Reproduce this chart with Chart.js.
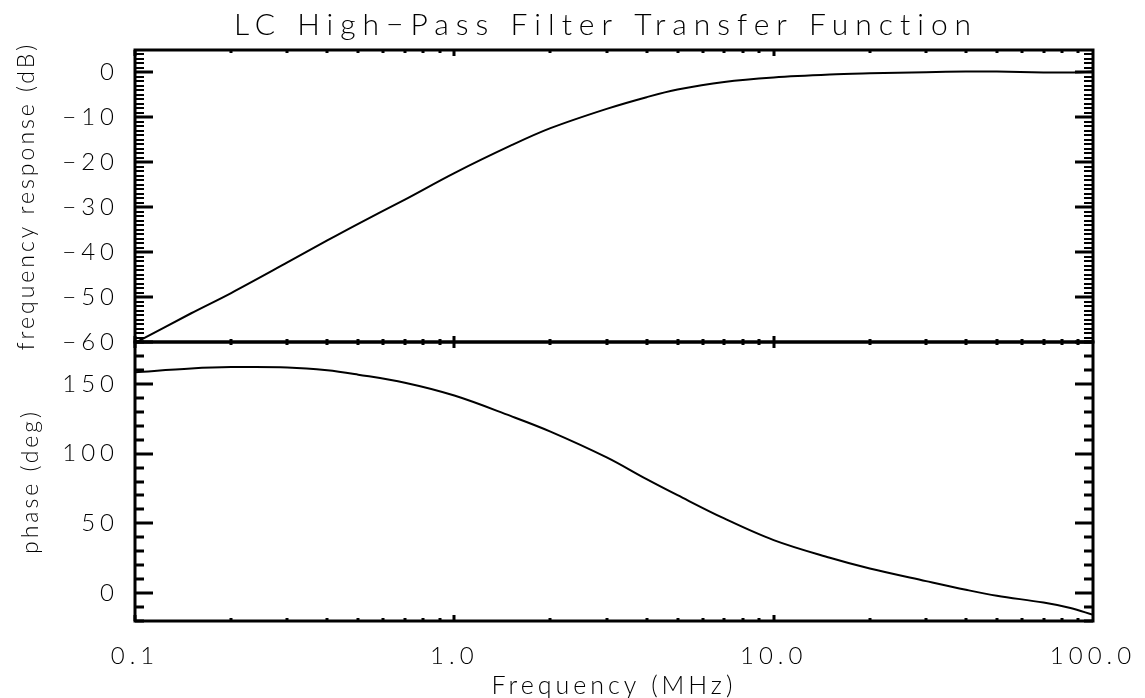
<!DOCTYPE html>
<html>
<head>
<meta charset="utf-8">
<script src="https://cdn.jsdelivr.net/npm/chart.js@4.4.0/dist/chart.umd.min.js"></script>
<style>
  html,body{margin:0;padding:0;background:#fff}
  #c{display:block}
</style>
</head>
<body>
<canvas id="c" width="1145" height="698"></canvas>
<script>
// ------------------------------------------------------------
// data
// ------------------------------------------------------------
const TITLE = "LC High\u2212Pass Filter Transfer Function";
const FREQ_MHZ  = [0.1, 0.15, 0.2, 0.3, 0.4, 0.5, 0.7, 1, 1.5, 2, 3, 4, 5, 7, 10, 15, 20, 30, 40, 50, 70, 85, 100];
const GAIN_DB   = [-60.2, -53.6, -49.1, -42.3, -37.4, -33.7, -28.3, -22.4, -16.3, -12.4, -8.1, -5.5, -3.8, -2.1, -1.1, -0.45, -0.2, 0.05, 0.2, 0.2, 0.0, 0.0, 0.2];
const PHASE_DEG = [158.3, 161.0, 162.0, 161.8, 159.8, 156.6, 150.8, 141.6, 127.0, 115.8, 97.3, 81.7, 70.2, 53.5, 38.0, 25.3, 17.6, 8.6, 2.4, -1.9, -6.8, -10.7, -15.5];

const X_TICKS     = [0.1, 1, 10, 100];
const DB_TICKS    = [0, -10, -20, -30, -40, -50, -60];
const PHASE_TICKS = [0, 50, 100, 150];

const FONT = "Lato, Roboto, 'DejaVu Sans', sans-serif";

// letter spacing per scale (canvas has it, Chart.js options don't)
const SPACING = {
  x:   {labels: "5px", title: "4px"},
  yDb: {labels: "5px", title: "3px"},
  yPh: {labels: "5px", title: "3px"}
};

function withSpacing(scale, fn, sp){
  const orig = scale[fn];
  scale[fn] = function(){
    const c = this.ctx, prev = c.letterSpacing;
    c.letterSpacing = sp;
    orig.apply(this, arguments);
    c.letterSpacing = prev;
  };
}

// ------------------------------------------------------------
// IDL-style frame: thick box + inward ticks on every side
// ------------------------------------------------------------
const frame = {
  id: "frame",
  beforeDraw(chart){
    for(const id in SPACING){
      const s = chart.scales[id];
      if(s && !s._spaced){
        withSpacing(s, "drawLabels", SPACING[id].labels);
        withSpacing(s, "drawTitle", SPACING[id].title);
        s._spaced = true;
      }
    }
  },
  afterDraw(chart){
    const ctx = chart.ctx, x = chart.scales.x;
    const panels = [
      {s: chart.scales.yDb, minor: 1,  major: 10, mw: 2},
      {s: chart.scales.yPh, minor: 10, major: 50, mw: 3}
    ];
    ctx.save();
    ctx.strokeStyle = "#000";
    for(const p of panels){
      const y = p.s;
      // y ticks, left and right
      for(let v = Math.ceil(y.min/p.minor)*p.minor; v <= y.max; v += p.minor){
        const py = Math.round(y.getPixelForValue(v));
        const big = Math.abs(v % p.major) < 1e-9;
        const len = big ? 18 : 9;
        ctx.lineWidth = big ? 3 : p.mw;
        ctx.beginPath();
        ctx.moveTo(x.left, py); ctx.lineTo(x.left+len, py);
        ctx.moveTo(x.right, py); ctx.lineTo(x.right-len, py);
        ctx.stroke();
      }
      // x ticks, top and bottom
      for(const d of [0.1, 1, 10]){
        for(let k=1;k<=9;k++){
          const px = Math.round(x.getPixelForValue(d*k));
          const len = k===1 ? 6 : 3;
          ctx.lineWidth = 3;
          ctx.beginPath();
          ctx.moveTo(px, y.top); ctx.lineTo(px, y.top+len);
          ctx.moveTo(px, y.bottom); ctx.lineTo(px, y.bottom-len);
          ctx.stroke();
        }
      }
      ctx.lineWidth = 3;
      ctx.strokeRect(x.left, y.top, x.right-x.left, y.bottom-y.top);
    }
    // title
    ctx.fillStyle = "#000";
    ctx.font = "300 30px " + FONT;
    ctx.letterSpacing = "7px";
    ctx.textAlign = "center";
    ctx.textBaseline = "middle";
    ctx.fillText(TITLE, 606, 25);
    ctx.restore();
  }
};

const minus = v => v < 0 ? "\u2212" + Math.abs(v) : String(v);
const tickFont  = {family: FONT, size: 24, weight: 300};
const titleFont = {family: FONT, size: 23, weight: 300};

new Chart(document.getElementById("c"), {
  type: "line",
  data: {
    datasets: [
      {
        data: FREQ_MHZ.map((f,i)=>({x:f, y:GAIN_DB[i]})),
        yAxisID: "yDb",
        borderColor: "#000", borderWidth: 2,
        pointRadius: 0, tension: 0.35
      },
      {
        data: FREQ_MHZ.map((f,i)=>({x:f, y:PHASE_DEG[i]})),
        yAxisID: "yPh",
        borderColor: "#000", borderWidth: 2,
        pointRadius: 0, tension: 0.35
      }
    ]
  },
  options: {
    responsive: false,
    animation: false,
    devicePixelRatio: 1,
    layout: { padding: {top: 50, right: 52, left: 0, bottom: 0} },
    plugins: { legend: {display:false}, tooltip: {enabled:false}, title: {display:false} },
    scales: {
      // first one in the stack lands at the bottom
      yPh: {
        type: "linear", position: "left", stack: "panels", stackWeight: 279,
        min: -20, max: 180,
        grid: {display:false}, border: {display:false},
        afterBuildTicks: s => { s.ticks = PHASE_TICKS.map(v=>({value:v})); },
        afterFit: s => { s.width = 135; },
        ticks: { color:"#000", font: tickFont, padding: 8, autoSkip: false, callback: minus },
        title: { display:true, text:"phase (deg)", color:"#000", font: titleFont, padding: {top: 17} }
      },
      yDb: {
        type: "linear", position: "left", stack: "panels", stackWeight: 292,
        min: -60, max: 5,
        grid: {display:false}, border: {display:false},
        afterBuildTicks: s => { s.ticks = DB_TICKS.map(v=>({value:v})); },
        afterFit: s => { s.width = 135; },
        ticks: { color:"#000", font: tickFont, padding: 8, autoSkip: false, callback: minus },
        title: { display:true, text:"frequency response (dB)", color:"#000", font: titleFont, padding: {top: 13} }
      },
      x: {
        type: "logarithmic", position: "bottom",
        min: 0.1, max: 100,
        grid: {display:false}, border: {display:false},
        afterBuildTicks: s => { s.ticks = X_TICKS.map(v=>({value:v})); },
        afterFit: s => { s.height = 77; },
        ticks: { color:"#000", font: tickFont, padding: 13, maxRotation: 0, autoSkip: false,
                 callback: v => Number(v).toFixed(1) },
        title: { display:true, text:"Frequency (MHz)", color:"#000",
                 font: {family: FONT, size: 25, weight: 300, lineHeight: 1.0}, padding: {top: 0, bottom: 0} }
      }
    }
  },
  plugins: [frame]
});
</script>
</body>
</html>
